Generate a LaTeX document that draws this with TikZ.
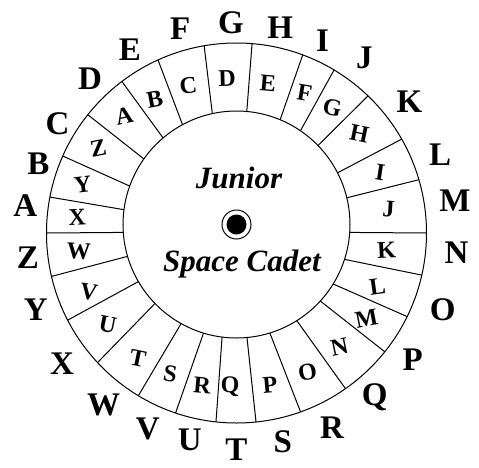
\documentclass[tikz,border=0pt]{standalone}
\usepackage{fontspec}
\setmainfont{Liberation Serif}
\usetikzlibrary{calc}

\begin{document}
\begin{tikzpicture}[x=1pt, y=1pt,
  outer/.style={font=\fontsize{33}{33}\selectfont\bfseries, inner sep=0pt},
  cell/.style={font=\fontsize{24}{24}\selectfont\bfseries, inner sep=0pt},
  hub/.style={font=\fontsize{31}{31}\selectfont\bfseries\itshape, inner sep=0pt, anchor=base},
  rim/.style={line width=1pt}]

\useasboundingbox (-236.5,-234) rectangle (242.5,233);

\coordinate (c1) at (0,0);
\coordinate (c2) at (0,8.5);

% the two rims of the wheel
\draw[rim] (c1) circle (190);
\draw[rim] (c2) circle (113.5);

% spokes between the rims (outer angle / inner angle)
\foreach \p/\q in {180/184, 169.1/172.5, 156.1/160.2, 141.5/144.7, 127.1/130.3,
    114.4/118.4, 99.8/102.3, 85.3/84.8, 69.6/67.4, 59.1/55.7, 46.2/44.1,
    29.6/27.1, 16.3/13.6, 0/-4, -12.8/-17.9, -26.1/-31.6, -38.7/-42.4,
    -55/-57.9, -70.3/-72.9, -84.1/-84.7, -96.2/-97.3, -108.7/-106.9,
    -121.1/-119.2, -137/-135.9, -152.7/-149.8, -166.8/-163.7}
  \draw[rim] ($(c1)+(\p:190)$) -- ($(c2)+(\q:113.5)$);

% fixed alphabet round the outside
\foreach \l/\a/\r in {A/172.5/213, B/160.6/210, C/148.5/210, D/133.4/213,
    E/120.2/212, F/105.4/212, G/91.5/210, H/78/210, I/65.9/211, J/53.9/217,
    K/37.1/217, L/21/218, M/8.5/221, N/-5.2/221, O/-20.3/220, P/-35.7/217,
    Q/-50/215, R/-63.9/217, S/-77.5/214, T/-90/217, U/-102.7/212,
    V/-114.4/215, W/-127.8/217, X/-143.2/218, Y/-159/215, Z/-173.2/210}
  \node[outer] (o\l) at (\a:\r) {\l};

% turning alphabet in the cells
\foreach \l/\a/\r in {A/133.9/162, B/121.4/157, C/108.1/155, D/93.5/155,
    E/78.1/153, F/64.1/156, G/52.6/158, H/39/158, I/23/156, J/8.9/154,
    K/-6.4/151, L/-20.9/151, M/-33.5/156, N/-48/154, O/-62.9/156,
    P/-77.6/156, Q/-92.4/154, R/-102.7/156, S/-115.1/156, T/-128.1/160,
    U/-144.6/158, V/-158.3/159, W/-173.2/159, X/174.3/160, Y/162.7/161,
    Z/148.5/162}
  \node[cell, rotate={-12*sin(2*\a)}] (i\l) at (\a:\r) {\l};

% hub with the pin
\node[hub] (junior) at (2.5,45) {Junior};
\node[hub] (cadet) at (5.5,-38.5) {Space Cadet};
\node[draw, circle, line width=1pt, minimum size=29, inner sep=0pt] (pin) at (c2) {};
\fill (pin.center) circle (10);

\end{tikzpicture}
\end{document}
